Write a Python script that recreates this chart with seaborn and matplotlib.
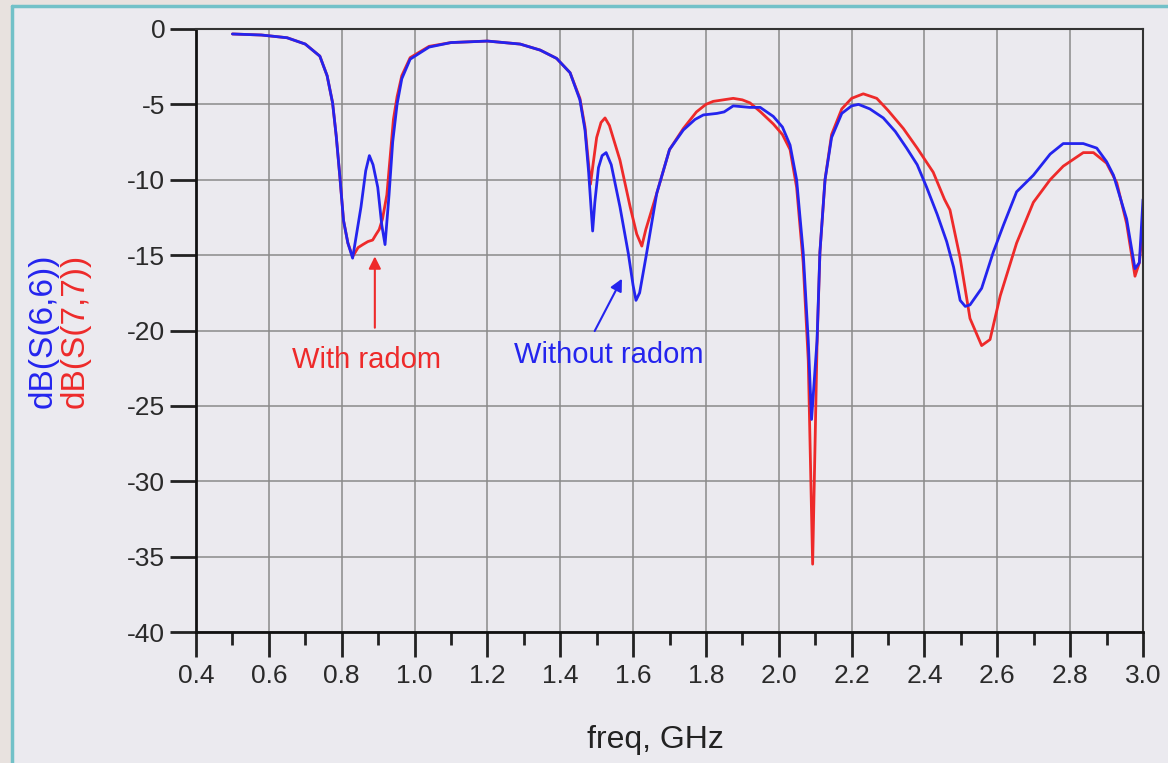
import numpy as np
import pandas as pd
import seaborn as sns
import matplotlib.pyplot as plt
from matplotlib.ticker import MultipleLocator, FormatStrFormatter
from matplotlib.patches import Rectangle
from matplotlib.lines import Line2D

# S(6,6) - without radom (blue)
freq_66 = [0.50, 0.58, 0.65, 0.70, 0.74, 0.76, 0.775, 0.785, 0.795, 0.805, 0.817, 0.830,
           0.853, 0.866, 0.876, 0.886, 0.899, 0.910, 0.919, 0.930, 0.940, 0.952, 0.965,
           0.988, 1.04, 1.10, 1.20, 1.29, 1.345, 1.39, 1.427, 1.454, 1.468, 1.478, 1.485,
           1.489, 1.495, 1.505, 1.515, 1.526, 1.54, 1.564, 1.587, 1.600, 1.608, 1.618,
           1.637, 1.665, 1.70, 1.738, 1.77, 1.793, 1.83, 1.85, 1.875, 1.92, 1.949, 1.985,
           2.01, 2.031, 2.049, 2.067, 2.081, 2.090, 2.105, 2.113, 2.127, 2.145, 2.173,
           2.20, 2.219, 2.25, 2.287, 2.32, 2.351, 2.38, 2.406, 2.435, 2.461, 2.48, 2.498,
           2.512, 2.525, 2.557, 2.589, 2.617, 2.653, 2.699, 2.745, 2.781, 2.836, 2.873,
           2.90, 2.919, 2.955, 2.978, 2.99, 3.0]
db_66 = [-0.33, -0.40, -0.58, -1.0, -1.8, -3.1, -4.9, -7.1, -9.8, -12.7, -14.2, -15.2,
         -11.8, -9.4, -8.4, -9.0, -10.5, -13.0, -14.3, -11.0, -7.5, -5.0, -3.3,
         -2.0, -1.2, -0.9, -0.8, -1.0, -1.4, -1.95, -2.9, -4.7, -6.7, -9.5, -12.0,
         -13.4, -11.5, -9.2, -8.4, -8.2, -9.0, -11.8, -14.9, -17.0, -18.0, -17.5,
         -14.9, -10.9, -8.0, -6.7, -6.0, -5.7, -5.6, -5.5, -5.1, -5.2, -5.2, -5.8,
         -6.5, -7.7, -10.0, -14.8, -20.7, -25.9, -20.7, -14.8, -10.0, -7.2, -5.6,
         -5.1, -5.0, -5.3, -5.9, -6.8, -7.9, -9.0, -10.5, -12.3, -14.1, -15.8, -18.0,
         -18.4, -18.3, -17.2, -14.8, -13.0, -10.8, -9.7, -8.3, -7.6, -7.6, -7.9,
         -8.8, -9.7, -12.6, -15.9, -15.5, -11.3]

# S(7,7) - with radom (red)
freq_77 = [0.50, 0.58, 0.65, 0.70, 0.74, 0.76, 0.775, 0.785, 0.795, 0.805, 0.817, 0.830,
           0.845, 0.858, 0.872, 0.885, 0.895, 0.903, 0.912, 0.924, 0.933, 0.942, 0.952,
           0.965, 0.988, 1.04, 1.10, 1.20, 1.29, 1.345, 1.39, 1.427, 1.454, 1.468, 1.478,
           1.483, 1.49, 1.50, 1.512, 1.523, 1.535, 1.564, 1.592, 1.61, 1.624, 1.635,
           1.665, 1.70, 1.738, 1.774, 1.80, 1.82, 1.875, 1.90, 1.921, 1.95, 1.985, 2.01,
           2.031, 2.049, 2.067, 2.081, 2.093, 2.105, 2.113, 2.127, 2.145, 2.173, 2.20,
           2.232, 2.269, 2.30, 2.342, 2.38, 2.424, 2.455, 2.47, 2.498, 2.525, 2.557,
           2.58, 2.608, 2.653, 2.699, 2.745, 2.781, 2.836, 2.864, 2.90, 2.928, 2.955,
           2.978, 2.99, 3.0]
db_77 = [-0.33, -0.40, -0.58, -1.0, -1.8, -3.1, -4.9, -7.1, -9.8, -12.7, -14.2, -15.1,
         -14.5, -14.3, -14.1, -14.0, -13.6, -13.3, -12.6, -11.0, -8.5, -6.0, -4.5,
         -3.1, -1.9, -1.15, -0.9, -0.8, -1.0, -1.4, -1.95, -2.9, -4.6, -6.5, -9.0,
         -10.3, -9.0, -7.2, -6.2, -5.9, -6.4, -8.7, -11.8, -13.6, -14.4, -13.3,
         -10.9, -8.0, -6.6, -5.5, -5.0, -4.8, -4.6, -4.7, -4.9, -5.5, -6.3, -7.0,
         -8.0, -10.5, -15.5, -22.0, -35.5, -21.0, -14.8, -10.0, -7.0, -5.3, -4.6,
         -4.3, -4.6, -5.4, -6.6, -7.9, -9.5, -11.3, -12.0, -15.2, -19.2, -21.0,
         -20.6, -17.7, -14.2, -11.5, -10.0, -9.1, -8.2, -8.2, -8.9, -10.2, -12.9,
         -16.4, -15.5, -13.0]

x_ticks = [0.4, 0.6, 0.8, 1.0, 1.2, 1.4, 1.6, 1.8, 2.0, 2.2, 2.4, 2.6, 2.8, 3.0]
y_ticks = [0, -5, -10, -15, -20, -25, -30, -35, -40]

blue = '#2424ee'
red = '#ee2a2a'
bg = '#ebeaef'

sns.set_theme(style="whitegrid")
plt.rcParams['font.family'] = ['Liberation Sans', 'DejaVu Sans']
plt.rcParams['axes.unicode_minus'] = False

fig = plt.figure(figsize=(11.68, 7.63), dpi=100, facecolor=bg)
ax = fig.add_axes([196/1168, 1-632/763, (1143-196)/1168, (632-29)/763])
ax.set_facecolor(bg)

df66 = pd.DataFrame({'freq': freq_66, 'db': db_66})
df77 = pd.DataFrame({'freq': freq_77, 'db': db_77})
sns.lineplot(data=df77, x='freq', y='db', color=red, lw=2, sort=False, estimator=None, ax=ax)
sns.lineplot(data=df66, x='freq', y='db', color=blue, lw=2, sort=False, estimator=None, ax=ax)

ax.set_xlim(0.4, 3.0)
ax.set_ylim(-40, 0)
ax.set_xticks(x_ticks)
ax.xaxis.set_major_formatter(FormatStrFormatter('%.1f'))
ax.xaxis.set_minor_locator(MultipleLocator(0.1))
ax.set_yticks(y_ticks)
ax.grid(True, which='major', color='#8a8a8a', lw=1.1)
ax.grid(False, which='minor')
ax.tick_params(axis='x', which='major', direction='out', length=18, width=2, color='#222222',
               labelsize=19, labelcolor='#2a2a2a', pad=5, bottom=True)
ax.tick_params(axis='x', which='minor', direction='out', length=9, width=2, color='#222222', bottom=True)
ax.tick_params(axis='y', which='major', direction='out', length=18.7, width=2, color='#222222',
               labelsize=19, labelcolor='#2a2a2a', pad=3.5, left=True)
for s in ['left', 'bottom']:
    ax.spines[s].set_color('#111111')
    ax.spines[s].set_linewidth(2)
for s in ['top', 'right']:
    ax.spines[s].set_color('#333333')
    ax.spines[s].set_linewidth(1.5)
ax.set_xlabel('')
ax.set_ylabel('')

# annotations
ax.annotate('', xy=(0.891, -14.9), xytext=(0.891, -20.0),
            arrowprops=dict(arrowstyle='-|>', color=red, lw=1.5, mutation_scale=18))
ax.text(0.869, -21.95, 'With radom', color=red, fontsize=21, ha='center', va='center')
ax.annotate('', xy=(1.573, -16.4), xytext=(1.491, -20.2),
            arrowprops=dict(arrowstyle='-|>', color=blue, lw=1.5, mutation_scale=18))
ax.text(1.533, -21.6, 'Without radom', color=blue, fontsize=21, ha='center', va='center')

fig.text(655/1168, 1-740/763, 'freq, GHz', fontsize=23, color='#222222', ha='center', va='center')
fig.text(43/1168, 1-331/763, 'dB(S(6,6))', fontsize=24, color=blue, rotation=90, ha='center', va='center')
fig.text(75/1168, 1-331/763, 'dB(S(7,7))', fontsize=24, color=red, rotation=90, ha='center', va='center')

# frame of the original screenshot
fig.add_artist(Rectangle((0, 0), 10/1168, 1, transform=fig.transFigure, color='#e8e2df', zorder=0))
fig.add_artist(Rectangle((0, 1-4/763), 1, 4/763, transform=fig.transFigure, color='#e8e2df', zorder=0))
fig.add_artist(Line2D([11.5/1168, 11.5/1168], [0, 1-5.5/763], transform=fig.transFigure, color='#72c1c8', lw=2.5))
fig.add_artist(Line2D([11.5/1168, 1], [1-5.5/763, 1-5.5/763], transform=fig.transFigure, color='#72c1c8', lw=2.5))

fig.savefig('out.png', dpi=100, facecolor=bg)
